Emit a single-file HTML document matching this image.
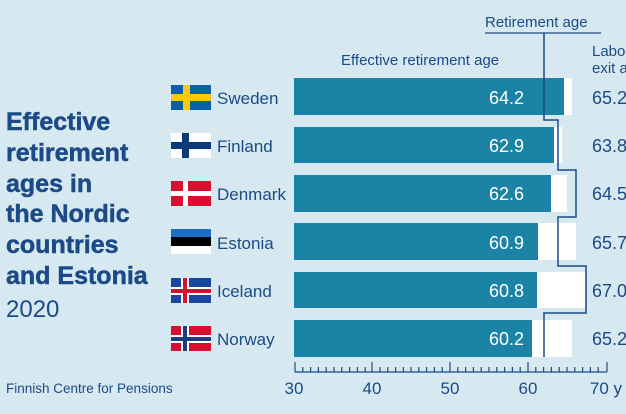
<!DOCTYPE html><html><head><style>
body{margin:0;width:626px;height:414px;overflow:hidden;background:#d7e9f0;font-family:"Liberation Sans",sans-serif;color:#1b4a86}
svg{position:absolute;left:0;top:0}
</style></head><body>
<svg width="626" height="414" viewBox="0 0 626 414" font-family="Liberation Sans, sans-serif">
<rect width="626" height="414" fill="#d7e9f0"/>
<g fill="#1b4a86" font-weight="bold" font-size="25" stroke="#1b4a86" stroke-width="0.5">
<text x="6" y="130">Effective</text><text x="6" y="161">retirement</text><text x="6" y="192">ages in</text><text x="6" y="222">the Nordic</text><text x="6" y="253">countries</text><text x="6" y="284">and Estonia</text>
</g>
<text x="6" y="317" font-size="24" fill="#1b4a86">2020</text>
<text x="6" y="393" font-size="13.5" fill="#1b4a86">Finnish Centre for Pensions</text>
<text x="341" y="65" font-size="15" fill="#1b4a86">Effective retirement age</text>
<text x="485" y="27" font-size="15" fill="#1b4a86">Retirement age</text>
<line x1="485" y1="33" x2="601" y2="33" stroke="#1b4a86" stroke-width="1.3"/>
<text x="592" y="56" font-size="15" fill="#1b4a86">Labour market</text>
<text x="592" y="73" font-size="15" fill="#1b4a86">exit age</text>
<g fill="#fff">
<rect x="294" y="78" width="278" height="37"/><rect x="294" y="127" width="268" height="36"/><rect x="294" y="175" width="273" height="37"/><rect x="294" y="223" width="282" height="37"/><rect x="294" y="272" width="291" height="36"/><rect x="294" y="320" width="278" height="37"/>
</g>
<g fill="#1a83a6">
<rect x="294" y="78" width="270" height="37"/><rect x="294" y="127" width="260" height="36"/><rect x="294" y="175" width="257" height="37"/><rect x="294" y="223" width="244" height="37"/><rect x="294" y="272" width="243" height="36"/><rect x="294" y="320" width="238" height="37"/>
</g>
<g fill="#fff" font-size="18" text-anchor="end">
<text x="524" y="104">64.2</text><text x="524" y="152">62.9</text><text x="524" y="200">62.6</text><text x="524" y="249">60.9</text><text x="524" y="297">60.8</text><text x="524" y="345">60.2</text>
</g>
<g fill="#1b4a86" font-size="18">
<text x="592" y="104">65.2</text><text x="592" y="152">63.8</text><text x="592" y="200">64.5</text><text x="592" y="249">65.7</text><text x="592" y="297">67.0</text><text x="592" y="345">65.2</text>
</g>
<path d="M544 33V120H558V170H576V217H558V266H586V313H544V357" fill="none" stroke="#1b4a86" stroke-width="1.5"/>
<g stroke="#1b4a86" stroke-width="1.2">
<line x1="295" y1="372" x2="607" y2="372"/>
<line x1="295" y1="362" x2="295" y2="372"/><line x1="372" y1="362" x2="372" y2="372"/><line x1="450" y1="362" x2="450" y2="372"/><line x1="528" y1="362" x2="528" y2="372"/><line x1="607" y1="362" x2="607" y2="372"/>
<path d="M302.8 367V372M310.6 367V372M318.4 367V372M326.2 367V372M334 367V372M341.8 367V372M349.6 367V372M357.4 367V372M365.2 367V372M380 367V372M387.8 367V372M395.6 367V372M403.4 367V372M411 367V372M418.8 367V372M426.6 367V372M434.4 367V372M442.2 367V372M457.8 367V372M465.6 367V372M473.4 367V372M481.2 367V372M489 367V372M496.8 367V372M504.6 367V372M512.4 367V372M520.2 367V372M535.8 367V372M543.6 367V372M551.4 367V372M559.2 367V372M567 367V372M574.8 367V372M582.6 367V372M590.4 367V372M598.2 367V372"/>
</g>
<g fill="#1b4a86" font-size="17" text-anchor="middle">
<text x="294" y="394">30</text><text x="372" y="394">40</text><text x="450" y="394">50</text><text x="528" y="394">60</text><text x="606" y="394">70 y</text>
</g>
<g font-size="17" fill="#1b4a86">
<text x="217" y="104">Sweden</text><text x="217" y="152">Finland</text><text x="217" y="200">Denmark</text><text x="217" y="249">Estonia</text><text x="217" y="297">Iceland</text><text x="217" y="345">Norway</text>
</g>
<g>
<rect x="171" y="85" width="40" height="25" fill="#0a5fa6"/><rect x="183" y="85" width="7" height="25" fill="#fcc80a"/><rect x="171" y="94" width="40" height="7" fill="#fcc80a"/>
<rect x="171" y="133" width="40" height="25" fill="#fff"/><rect x="182" y="133" width="7" height="25" fill="#0d3b7a"/><rect x="171" y="142" width="40" height="7" fill="#0d3b7a"/>
<rect x="171" y="181" width="40" height="25" fill="#d8102f"/><rect x="183" y="181" width="5" height="25" fill="#fff"/><rect x="171" y="191" width="40" height="5" fill="#fff"/>
<rect x="171" y="229" width="40" height="8" fill="#1a6ec8"/><rect x="171" y="237" width="40" height="9" fill="#000"/><rect x="171" y="246" width="40" height="8" fill="#fff"/>
<rect x="171" y="278" width="40" height="25" fill="#1b46a0"/><rect x="181" y="278" width="8" height="25" fill="#fff"/><rect x="171" y="287" width="40" height="8" fill="#fff"/><rect x="183" y="278" width="4" height="25" fill="#d8102f"/><rect x="171" y="289" width="40" height="4" fill="#d8102f"/>
<rect x="171" y="326" width="40" height="25" fill="#d8102f"/><rect x="181" y="326" width="8" height="25" fill="#fff"/><rect x="171" y="335" width="40" height="8" fill="#fff"/><rect x="183" y="326" width="4" height="25" fill="#1b3d80"/><rect x="171" y="337" width="40" height="4" fill="#1b3d80"/>
</g>
</svg>
</body></html>
